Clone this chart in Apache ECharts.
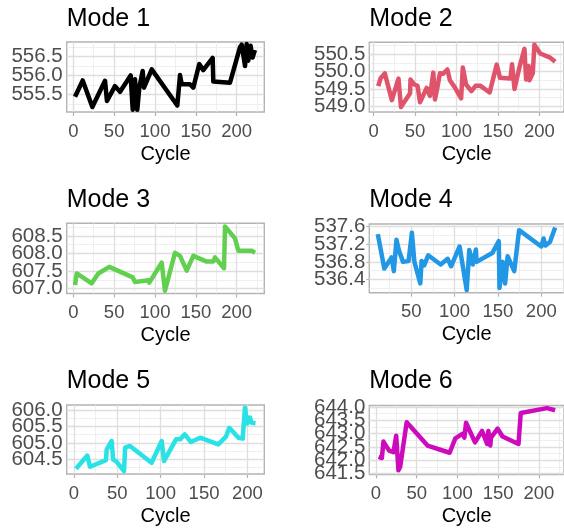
<!DOCTYPE html>
<html>
<head>
<meta charset="utf-8">
<script src="https://cdn.jsdelivr.net/npm/echarts@6/dist/echarts.min.js"></script>
<style>
html,body{margin:0;padding:0;background:#fff;}
#chart{width:564px;height:529px;}
</style>
</head>
<body>
<div id="chart"></div>
<script>
// ---- data ----
const titles = ["Mode 1", "Mode 2", "Mode 3", "Mode 4", "Mode 5", "Mode 6"];
const colors = ["#000000", "#DF536B", "#61D04F", "#2297E6", "#28E2E5", "#CD0BBC"];

const cycles1 = [2.1,11.5,23.3,38.8,41.2,51,57.2,70.2,72.7,75.5,78.3,80.8,84.9,86.5,96,127.3,130.6,132.7,142.8,146.9,154.2,159.1,170.6,171.4,191.8,204,206.1,210.2,212.2,214.2,217,219.5,222.3];
const values1 = [555.44,555.87,555.17,555.86,555.33,555.72,555.57,556.0,555.1,555.9,555.1,555.68,556.12,555.68,556.16,555.21,556.01,555.77,555.77,555.68,556.3,556.14,556.46,555.84,555.81,556.74,556.81,556.25,556.83,556.39,556.78,556.47,556.67];

const cycles2 = [5.6,8.3,13.5,22,30,33,44,44.5,49,53,56,64,68,72,74,77,80,84,89,92,97.6,105.6,107.6,111.5,118,123,129,140,148.5,152.5,165,167,170,176,178,182,184,187,188,192,194,201,213,219];
const values2 = [549.58,549.8,549.95,549.18,549.8,548.98,549.38,549.77,549.63,549.59,549.12,549.53,549.3,549.97,549.2,549.55,549.95,549.94,550.06,549.75,549.56,549.23,550.12,549.63,549.44,549.59,549.59,549.4,550.2,549.82,549.8,550.21,549.5,550.13,550.17,550.65,549.77,550.16,549.75,549.95,550.77,550.52,550.4,550.28];

const cycles3 = [2.1,4.2,22.5,30.6,44.1,72.7,75.5,91.8,93,108.2,112.2,124.5,130.6,138.8,146.9,163.3,171.4,173.4,184.5,185.7,197.9,202,218.4,222.4];
const values3 = [607.1,607.43,607.15,607.43,607.62,607.32,607.19,607.24,607.17,607.74,606.94,608.02,607.93,607.51,607.93,607.77,607.77,607.89,607.58,608.77,608.43,608.08,608.08,608.02];

const cycles4 = [11.5,19,27.4,30,33,36,40.6,47,50.8,53.7,60.5,62,65,69.6,84,92,96,105.8,114,117,121,124.6,125.4,143.5,151,151.8,155.5,158.3,161.2,168.8,174.4,200,202.7,204.6,210,216];
const values4 = [537.43,536.65,536.9,536.59,537.3,537.05,536.8,536.82,537.46,536.8,536.31,536.82,536.72,536.95,536.74,536.87,536.7,537.15,536.16,537.07,536.74,537.08,536.8,537.0,537.27,536.21,536.8,536.31,536.93,536.59,537.52,537.15,537.33,537.17,537.25,537.58];

const cycles5 = [2.3,15.3,18.5,36.9,37.7,43.4,45.2,48.5,57.7,59,64.6,89.5,101.2,103.8,117.7,122.3,127.8,134.7,145.5,166.4,175.3,179.1,189.7,194.6,197.2,199.8,203,204.9,209.4];
const values5 = [604.22,604.62,604.28,604.48,604.8,605.06,604.5,604.45,604.15,604.86,604.91,604.4,605.06,604.45,605.11,605.11,605.26,605.03,605.16,604.96,605.19,605.46,605.16,605.13,606.07,605.59,605.77,605.61,605.6];

const cycles6 = [3.2,7.2,9.2,16.1,21.5,24.8,27.6,29.7,37.7,63.3,90.5,97.4,99.7,106.6,108.6,110.6,121.6,130.3,136.5,138,140.4,141.2,149.4,155.4,175,177.8,210,220];
const values6 = [642.12,642.08,642.7,642.36,642.3,642.92,641.62,641.75,643.43,642.55,642.28,642.82,642.79,643.0,642.85,643.41,642.67,643.1,642.61,643.1,642.55,642.85,643.19,642.89,642.61,643.78,643.96,643.88];

const xTicks = [[0,50,100,150,200],[0,50,100,150,200],[0,50,100,150,200],[50,100,150,200],[0,50,100,150,200],[0,50,100,150,200]];
const xMinor = [[25,75,125,175,225],[25,75,125,175,225],[25,75,125,175,225],[25,75,125,175,225],[25,75,125,175],[25,75,125,175,225]];
const yTicks = [[555.5,556.0,556.5],[549.0,549.5,550.0,550.5],[607.0,607.5,608.0,608.5],[536.4,536.8,537.2,537.6],[604.5,605.0,605.5,606.0],[641.5,642.0,642.5,643.0,643.5,644.0]];
const yMinor = [[555.25,555.75,556.25,556.75],[549.25,549.75,550.25,550.75],[607.25,607.75,608.25,608.75],[536.2,536.6,537.0,537.4],[604.25,604.75,605.25,605.75],[641.75,642.25,642.75,643.25,643.75]];
const xRange = [[-8.1,233.8],[-5.2,229.7],[-8.1,233.8],[1.7,226.2],[-8.4,219.5],[-8.2,230.9]];
const yRange = [[555.04,556.88],[548.84,550.84],[606.86,608.86],[536.1,537.66],[604.06,606.15],[641.46,644.06]];
const xName = "Cycle";

// ---- layout ----
const cyc = [cycles1,cycles2,cycles3,cycles4,cycles5,cycles6];
const vals = [values1,values2,values3,values4,values5,values6];
const grids = [
  {left:66.7, top:42, width:197.6, height:70},
  {left:369.3, top:42.3, width:197.7, height:69.7},
  {left:66.7, top:223.3, width:197.6, height:70.2},
  {left:369.3, top:224, width:198.5, height:68.7},
  {left:66.7, top:405, width:197.6, height:69},
  {left:369.3, top:405.5, width:196.4, height:69}
];
const titleTops = [6.5,6.5,187.5,187.5,368.5,368.5];
const FONT = "Liberation Sans";

const yAxes = [];
grids.forEach((g,i)=>{
  // two overlaid left axes per panel, alternating labels (so none get auto-hidden)
  [0,1].forEach(k=>{
    const labs = yTicks[i].filter((v,j)=>j%2===k);
    yAxes.push({
      type:"value", gridIndex:i, min:yRange[i][0], max:yRange[i][1], position:"left", offset:0,
      axisLine:{show:false},
      axisTick:{show:k===0, length:3, lineStyle:{color:"#B3B3B3", width:1.2}, customValues:yTicks[i]},
      axisLabel:{fontFamily:FONT, fontSize:20.5, color:"#4D4D4D", margin:4, customValues:labs,
        showMinLabel:true, showMaxLabel:true, hideOverlap:false, formatter:v=>v.toFixed(1)},
      splitLine:{show:false}
    });
  });
});

const option = {
  animation:false,
  backgroundColor:"#ffffff",
  title: titles.map((t,i)=>({text:t, left:grids[i].left, top:titleTops[i], padding:0,
    textStyle:{fontFamily:FONT, fontSize:25, fontWeight:"normal", color:"#000"}})),
  grid: grids.map(g=>Object.assign({show:true, borderColor:"#B3B3B3", borderWidth:1.4, backgroundColor:"#fff", containLabel:false}, g)),
  xAxis: grids.map((g,i)=>({
    type:"value", gridIndex:i, min:xRange[i][0], max:xRange[i][1],
    name:xName, nameLocation:"middle", nameGap:32,
    nameTextStyle:{fontFamily:FONT, fontSize:20, color:"#000"},
    axisLine:{show:false},
    axisTick:{show:true, length:4, lineStyle:{color:"#B3B3B3", width:1.2}, customValues:xTicks[i]},
    axisLabel:{fontFamily:FONT, fontSize:18.5, color:"#4D4D4D", margin:10, customValues:xTicks[i],
      showMinLabel:true, showMaxLabel:true, hideOverlap:false, formatter:v=>String(v)},
    splitLine:{show:false}
  })),
  yAxis: yAxes,
  series: []
};

for (let i=0;i<6;i++){
  const ml = [];
  xMinor[i].forEach(v=>ml.push({xAxis:v, lineStyle:{color:"#EBEBEB", width:0.8, type:"solid"}}));
  yMinor[i].forEach(v=>ml.push({yAxis:v, lineStyle:{color:"#EBEBEB", width:0.8, type:"solid"}}));
  xTicks[i].forEach(v=>ml.push({xAxis:v, lineStyle:{color:"#DEDEDE", width:1.3, type:"solid"}}));
  yTicks[i].forEach(v=>ml.push({yAxis:v, lineStyle:{color:"#DEDEDE", width:1.3, type:"solid"}}));
  option.series.push({
    type:"line", xAxisIndex:i, yAxisIndex:2*i, data:[], silent:true, z:1,
    markLine:{silent:true, z:1, symbol:["none","none"], label:{show:false}, animation:false, data:ml}
  });
  option.series.push({
    type:"line", xAxisIndex:i, yAxisIndex:2*i, z:20, showSymbol:false, silent:true,
    data: cyc[i].map((c,j)=>[c, vals[i][j]]),
    lineStyle:{color:colors[i], width:4.5, cap:"butt", join:"round"},
    itemStyle:{color:colors[i]}
  });
}

const chart = echarts.init(document.getElementById("chart"), null, {renderer:"canvas"});
chart.setOption(option);
</script>
</body>
</html>
